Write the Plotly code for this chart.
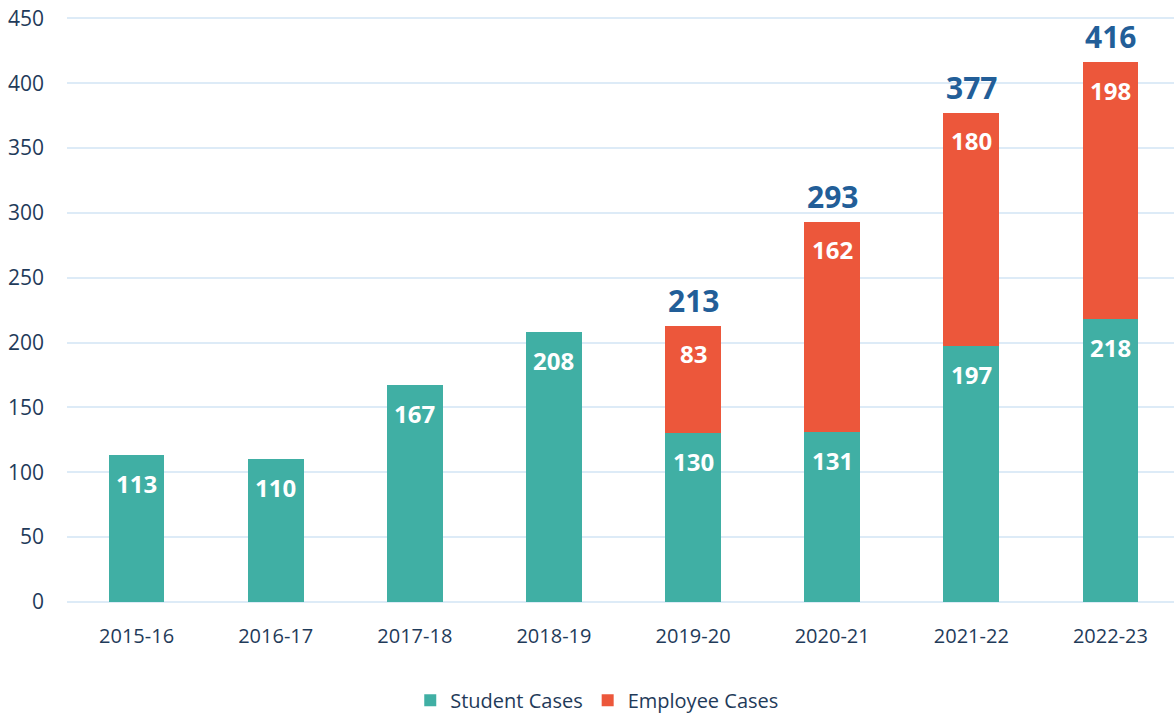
import plotly.graph_objects as go

years = ["2015-16", "2016-17", "2017-18", "2018-19", "2019-20", "2020-21", "2021-22", "2022-23"]
student = [113, 110, 167, 208, 130, 131, 197, 218]
employee = [None, None, None, None, 83, 162, 180, 198]
y_ticks = [0, 50, 100, 150, 200, 250, 300, 350, 400, 450]

TEAL = "#40AFA4"
RED = "#EC573B"
NAVY = "#1F3B5A"
BLUE = "#225E98"
FONT = "Open Sans"

fig = go.Figure()
fig.add_trace(go.Bar(x=years, y=student, name="Student Cases", marker_color=TEAL,
                     marker_line_width=0, width=0.4))
fig.add_trace(go.Bar(x=years, y=employee, name="Employee Cases", marker_color=RED,
                     marker_line_width=0, width=0.4))

annotations = []
for i, yr in enumerate(years):
    s = student[i]
    annotations.append(dict(x=yr, y=s, text=f"<b>{s}</b>", showarrow=False, yanchor="middle",
                            yshift=-28, font=dict(family=FONT, size=24, color="white")))
    e = employee[i]
    if e is not None:
        tot = s + e
        annotations.append(dict(x=yr, y=tot, text=f"<b>{e}</b>", showarrow=False, yanchor="middle",
                                yshift=-28, font=dict(family=FONT, size=24, color="white")))
        annotations.append(dict(x=yr, y=tot, text=f"<b>{tot}</b>", showarrow=False, yanchor="bottom",
                                yshift=3, font=dict(family=FONT, size=30, color=BLUE)))

fig.update_layout(
    barmode="stack",
    width=1174, height=714,
    margin=dict(l=67, r=0, t=17, b=112, autoexpand=False),
    plot_bgcolor="white", paper_bgcolor="white",
    font=dict(family=FONT, size=20, color=NAVY),
    annotations=annotations,
    legend=dict(orientation="h", x=0.479, xanchor="center", y=-0.168, yanchor="middle",
                font=dict(family=FONT, size=20, color=NAVY), traceorder="normal"),
    xaxis=dict(range=[-0.5, 7.457], showgrid=False, showline=False, ticks="",
               automargin=False, ticklabelstandoff=20, ticklabeloverflow="allow",
               tickfont=dict(family=FONT, size=20, color=NAVY)),
    yaxis=dict(range=[0, 451], tickvals=y_ticks, showgrid=True, gridcolor="#DDEBF7", gridwidth=2,
               zeroline=True, zerolinecolor="#DDEBF7", zerolinewidth=2, ticks="",
               automargin=False, ticklabelstandoff=22, ticklabeloverflow="allow",
               tickfont=dict(family=FONT, size=21, color=NAVY)),
)

fig.write_html("out.html", config={"displayModeBar": False},
               post_script="document.body.style.margin='0';")
